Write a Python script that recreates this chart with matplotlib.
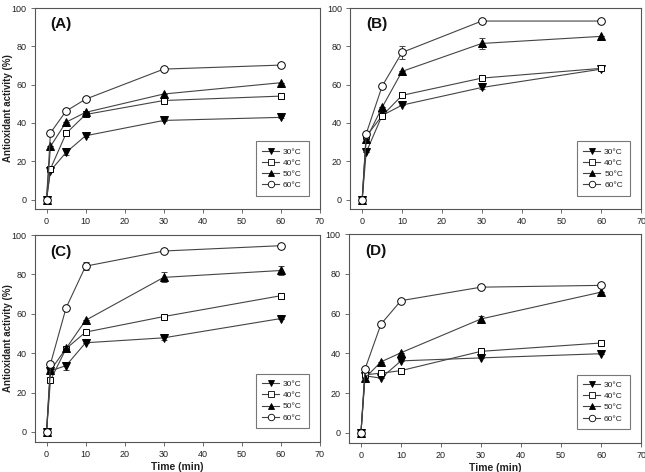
import numpy as np
import matplotlib
matplotlib.use("Agg")
import matplotlib.pyplot as plt
from matplotlib.lines import Line2D

plt.rcParams['font.family'] = ['Liberation Sans', 'DejaVu Sans']

time = [0, 1, 5, 10, 30, 60]
labels = ["30°C", "40°C", "50°C", "60°C"]

# panel (A)
a_30 = [0, 15, 24.6, 33.3, 41.3, 42.9]
a_40 = [0, 16, 34.5, 44.4, 51.7, 54.0]
a_50 = [0, 27.7, 40.4, 45.5, 55.1, 61.0]
a_60 = [0, 34.8, 46.2, 52.4, 68.1, 70.2]
a_err30 = [0, 0, 1.5, 0.8, 0.5, 0.5]
a_err40 = [0, 0, 0, 0, 0, 0]
a_err50 = [0, 0, 0, 0, 0, 0]
a_err60 = [0, 0, 0, 0, 0, 0]

# panel (B)
b_30 = [0, 24.6, 43.9, 49.3, 58.5, 68.1]
b_40 = [0, 33.0, 43.7, 54.4, 63.4, 68.5]
b_50 = [0, 31.5, 48.1, 66.9, 81.5, 85.2]
b_60 = [0, 34.3, 59.2, 76.8, 93.2, 93.2]
b_err30 = [0, 0, 0, 0, 1.0, 0.5]
b_err40 = [0, 0, 0, 0, 0, 1.0]
b_err50 = [0, 0, 0, 0, 3.0, 0]
b_err60 = [0, 0, 0, 3.5, 0, 0]

# panel (C)
c_30 = [0, 31.0, 33.7, 45.3, 47.8, 57.6]
c_40 = [0, 26.3, 42.3, 50.7, 58.6, 69.2]
c_50 = [0, 31.3, 42.4, 56.7, 78.5, 82.0]
c_60 = [0, 34.5, 63.0, 84.2, 91.9, 94.6]
c_err30 = [0, 0, 2.0, 0, 1.0, 0]
c_err40 = [0, 0, 0, 0, 0, 0]
c_err50 = [0, 0, 0, 0, 2.5, 2.5]
c_err60 = [0, 0, 0, 2.0, 0, 0]

# panel (D)
d_30 = [0, 28.7, 27.5, 36.2, 37.7, 39.8]
d_40 = [0, 29.2, 30.0, 31.3, 41.0, 45.2]
d_50 = [0, 27.5, 35.7, 40.3, 57.3, 70.8]
d_60 = [0, 32.0, 54.7, 66.5, 73.3, 74.2]
d_err30 = [0, 0, 0, 0, 0, 0]
d_err40 = [0, 0, 0, 0, 0, 0]
d_err50 = [0, 0, 0, 0, 1.5, 0]
d_err60 = [0, 0, 0, 0, 0, 0]

panels = [
    ("(A)", [a_30, a_40, a_50, a_60], [a_err30, a_err40, a_err50, a_err60]),
    ("(B)", [b_30, b_40, b_50, b_60], [b_err30, b_err40, b_err50, b_err60]),
    ("(C)", [c_30, c_40, c_50, c_60], [c_err30, c_err40, c_err50, c_err60]),
    ("(D)", [d_30, d_40, d_50, d_60], [d_err30, d_err40, d_err50, d_err60]),
]

markers = ['v', 's', '^', 'o']
msizes = [5.5, 5, 5.5, 5.5]
fills = ['black', 'white', 'black', 'white']
gray = '#555555'
txt = '#222222'
line_c = '#444444'

fig = plt.figure(figsize=(6.45, 4.72), dpi=100)
rects = [
    [0.054, 0.557, 0.442, 0.426],
    [0.543, 0.557, 0.451, 0.426],
    [0.054, 0.064, 0.442, 0.438],
    [0.541, 0.062, 0.453, 0.442],
]

for i, (name, series, errs) in enumerate(panels):
    ax = fig.add_axes(rects[i])
    for k in range(4):
        ax.errorbar(time, series[k], yerr=errs[k], color=line_c, lw=0.8,
                    marker=markers[k], markersize=msizes[k],
                    markerfacecolor=fills[k], markeredgecolor='black',
                    markeredgewidth=0.7, ecolor=line_c, elinewidth=0.7,
                    capsize=2, capthick=0.7, zorder=3 + k)
    ax.set_xlim(-3, 70)
    ax.set_ylim(-5, 100)
    ax.set_xticks(range(0, 71, 10))
    ax.set_yticks(range(0, 101, 20))
    ax.tick_params(direction='out', length=3, width=0.6, color=gray,
                   labelsize=6.5, labelcolor=txt, pad=3)
    for s in ax.spines.values():
        s.set_color(gray)
        s.set_linewidth(0.8)
    ax.text(0.055, 0.92, name, transform=ax.transAxes, fontsize=11,
            fontweight='bold', color='#111111', va='center')
    handles = [Line2D([], [], color=line_c, lw=0.8, marker=markers[k],
                      markersize=msizes[k] * 0.85, markerfacecolor=fills[k],
                      markeredgecolor='black', markeredgewidth=0.6)
               for k in range(4)]
    leg = ax.legend(handles, labels, loc='lower right',
                    bbox_to_anchor=(0.975, 0.045),
                    fontsize=6, frameon=True, fancybox=False,
                    handlelength=2.0, borderpad=0.8,
                    labelspacing=0.4, handletextpad=0.5)
    leg.get_frame().set_edgecolor(gray)
    leg.get_frame().set_linewidth(0.8)
    for t in leg.get_texts():
        t.set_color(txt)
    if i in (0, 2):
        ax.set_ylabel("Antioxidant activity (%)", fontsize=7,
                      fontweight='bold', color=txt)
        ax.yaxis.set_label_coords(-0.078, 0.5)
    if i in (2, 3):
        ax.set_xlabel("Time (min)", fontsize=7.5, fontweight='bold',
                      color=txt, labelpad=2)

fig.savefig("out.png", dpi=100)
